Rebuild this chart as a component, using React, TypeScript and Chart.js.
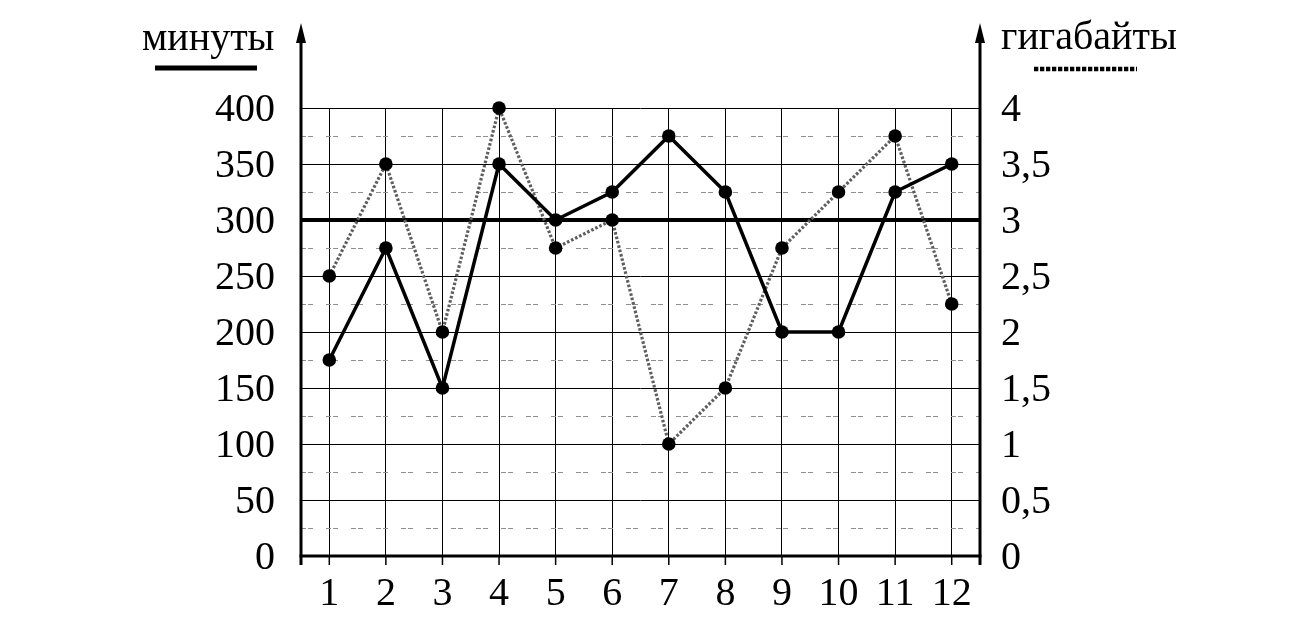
import React, { useEffect, useRef } from "react";
import { Chart, registerables } from "chart.js";

Chart.register(...registerables);

// ---- data ----
const months = [1, 2, 3, 4, 5, 6, 7, 8, 9, 10, 11, 12];
const xLabels = ["1", "2", "3", "4", "5", "6", "7", "8", "9", "10", "11", "12"];
const minutes = [175, 275, 150, 350, 300, 325, 375, 325, 200, 200, 325, 350];
const gigabytes = [2.5, 3.5, 2.0, 4.0, 2.75, 3.0, 1.0, 1.5, 2.75, 3.25, 3.75, 2.25];
const minutesTicks = [0, 50, 100, 150, 200, 250, 300, 350, 400];
const minutesTickLabels = ["0", "50", "100", "150", "200", "250", "300", "350", "400"];
const gbTicks = [0, 0.5, 1, 1.5, 2, 2.5, 3, 3.5, 4];
const gbTickLabels = ["0", "0,5", "1", "1,5", "2", "2,5", "3", "3,5", "4"];
const minorMinutes = [25, 75, 125, 175, 225, 275, 325, 375];
const thresholdMinutes = 300;
const leftTitle = "минуты";
const rightTitle = "гигабайты";

const FONT = '40px "Liberation Serif", "Times New Roman", serif';

const decor = {
  id: "decor",
  beforeDatasetsDraw(chart: any) {
    const { ctx, chartArea } = chart;
    const { left, right, bottom } = chartArea;
    const y = chart.scales.y;
    const x = chart.scales.x;
    ctx.save();
    // minor dashed grid
    ctx.strokeStyle = "#8f8f8f";
    ctx.lineWidth = 1;
    ctx.setLineDash([5, 2, 5, 13]);
    minorMinutes.forEach((v) => {
      const py = Math.round(y.getPixelForValue(v)) + 0.5;
      ctx.beginPath();
      ctx.moveTo(left, py);
      ctx.lineTo(right, py);
      ctx.stroke();
    });
    ctx.setLineDash([]);
    // tick marks below x axis
    ctx.strokeStyle = "#000";
    ctx.lineWidth = 1.5;
    months.forEach((m) => {
      const px = x.getPixelForValue(m);
      ctx.beginPath();
      ctx.moveTo(px, bottom);
      ctx.lineTo(px, bottom + 9);
      ctx.stroke();
    });
    // axes
    ctx.lineWidth = 3;
    ctx.beginPath();
    ctx.moveTo(left - 1.5, bottom);
    ctx.lineTo(right + 1.5, bottom);
    ctx.stroke();
    [left, right].forEach((ax) => {
      ctx.beginPath();
      ctx.moveTo(ax, bottom + 9);
      ctx.lineTo(ax, 40);
      ctx.stroke();
      ctx.beginPath();
      ctx.moveTo(ax, 23);
      ctx.lineTo(ax - 5, 43);
      ctx.lineTo(ax + 5, 43);
      ctx.closePath();
      ctx.fillStyle = "#000";
      ctx.fill();
    });
    ctx.restore();
  },
  afterDraw(chart: any) {
    const { ctx, chartArea } = chart;
    const { left, right, bottom } = chartArea;
    const y = chart.scales.y;
    const y2 = chart.scales.y2;
    const x = chart.scales.x;
    ctx.save();
    ctx.fillStyle = "#000";
    ctx.font = FONT;
    ctx.textBaseline = "alphabetic";
    // left tick labels
    ctx.textAlign = "right";
    minutesTicks.forEach((v, i) => {
      ctx.fillText(minutesTickLabels[i], left - 26, y.getPixelForValue(v) + 13);
    });
    // right tick labels
    ctx.textAlign = "left";
    gbTicks.forEach((v, i) => {
      ctx.fillText(gbTickLabels[i], right + 21, y2.getPixelForValue(v) + 13);
    });
    // x labels
    ctx.textAlign = "center";
    months.forEach((m, i) => {
      ctx.fillText(xLabels[i], x.getPixelForValue(m), bottom + 49);
    });
    // titles
    ctx.textAlign = "left";
    ctx.fillText(leftTitle, 142, 50);
    ctx.fillText(rightTitle, 1001, 49);
    // legend lines
    ctx.strokeStyle = "#000";
    ctx.lineWidth = 5;
    ctx.beginPath();
    ctx.moveTo(155, 68);
    ctx.lineTo(257, 68);
    ctx.stroke();
    ctx.lineWidth = 4.5;
    ctx.setLineDash([4.3, 1.7]);
    ctx.beginPath();
    ctx.moveTo(1034, 69);
    ctx.lineTo(1137, 69);
    ctx.stroke();
    ctx.restore();
  },
};

export default function App() {
  const ref = useRef<HTMLCanvasElement | null>(null);
  useEffect(() => {
    if (!ref.current) return;
    const chart = new Chart(ref.current, {
      type: "line",
      data: {
        datasets: [
          {
            label: leftTitle,
            data: months.map((m, i) => ({ x: m, y: minutes[i] })),
            yAxisID: "y",
            borderColor: "#000",
            backgroundColor: "#000",
            borderWidth: 3.5,
            pointRadius: 6.8,
            pointBackgroundColor: "#000",
            pointBorderWidth: 0,
            tension: 0,
            clip: false as any,
          },
          {
            label: rightTitle,
            data: months.map((m, i) => ({ x: m, y: gigabytes[i] })),
            yAxisID: "y2",
            borderColor: "#5e5e5e",
            backgroundColor: "#000",
            borderWidth: 3.2,
            borderDash: [2.6, 1.9],
            pointRadius: 6.8,
            pointBackgroundColor: "#000",
            pointBorderWidth: 0,
            tension: 0,
            clip: false as any,
          },
          {
            label: "threshold",
            data: [
              { x: 0.5, y: thresholdMinutes },
              { x: 12.5, y: thresholdMinutes },
            ],
            yAxisID: "y",
            borderColor: "#000",
            borderWidth: 4,
            pointRadius: 0,
            clip: false as any,
          },
        ],
      },
      options: {
        animation: false,
        responsive: false,
        devicePixelRatio: 1,
        layout: { padding: { left: 301, right: 326, top: 108, bottom: 74 } },
        plugins: { legend: { display: false }, tooltip: { enabled: false } },
        events: [],
        scales: {
          x: {
            type: "linear",
            min: 0.5,
            max: 12.5,
            afterBuildTicks: (s: any) => {
              s.ticks = months.map((v) => ({ value: v }));
            },
            ticks: { display: false },
            grid: { color: "#000", lineWidth: 1, drawTicks: false },
            border: { display: false },
          },
          y: {
            type: "linear",
            position: "left",
            min: 0,
            max: 400,
            afterBuildTicks: (s: any) => {
              s.ticks = minutesTicks.map((v) => ({ value: v }));
            },
            ticks: { display: false },
            grid: { color: "#000", lineWidth: 1, drawTicks: false },
            border: { display: false },
          },
          y2: {
            type: "linear",
            position: "right",
            min: 0,
            max: 4,
            ticks: { display: false },
            grid: { display: false, drawTicks: false },
            border: { display: false },
          },
        },
      } as any,
      plugins: [decor],
    });
    return () => chart.destroy();
  }, []);
  return (
    <div style={{ position: "absolute", left: 0, top: 0, width: 1306, height: 630, background: "#fff" }}>
      <canvas ref={ref} width={1306} height={630} style={{ display: "block" }} />
    </div>
  );
}
